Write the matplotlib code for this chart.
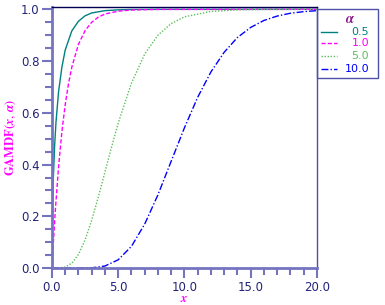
import matplotlib
matplotlib.use("Agg")
import matplotlib.pyplot as plt
from matplotlib.lines import Line2D
from matplotlib.patches import Rectangle
from matplotlib.ticker import MultipleLocator

plt.rcParams["mathtext.fontset"] = "stix"

# values
alpha_labels = ["0.5", "1.0", "5.0", "10.0"]

x_a05 = [0, 0.01, 0.02, 0.05, 0.1, 0.2, 0.3, 0.5, 0.75, 1.0, 1.5, 2.0, 2.5, 3.0, 4.0, 5.0, 6.0, 8.0, 20.0]
y_a05 = [0, 0.112, 0.159, 0.248, 0.345, 0.473, 0.562, 0.683, 0.777, 0.843, 0.917, 0.954, 0.975, 0.986, 0.995, 0.998, 0.9995, 1.0, 1.0]

x_a1 = [0, 0.05, 0.1, 0.25, 0.5, 0.75, 1.0, 1.25, 1.5, 2.0, 2.5, 3.0, 3.5, 4.0, 5.0, 6.0, 8.0, 20.0]
y_a1 = [0, 0.049, 0.095, 0.221, 0.393, 0.528, 0.632, 0.713, 0.777, 0.865, 0.918, 0.950, 0.970, 0.982, 0.993, 0.9975, 0.9997, 1.0]

x_a5 = [0, 0.5, 1.0, 1.5, 2.0, 2.5, 3.0, 3.5, 4.0, 4.5, 5.0, 6.0, 7.0, 8.0, 9.0, 10.0, 12.0, 14.0, 16.0, 20.0]
y_a5 = [0, 0.0002, 0.004, 0.019, 0.053, 0.109, 0.185, 0.275, 0.371, 0.468, 0.560, 0.715, 0.827, 0.900, 0.945, 0.971, 0.992, 0.998, 0.9996, 1.0]

x_a10 = [0, 2, 3, 4, 5, 6, 7, 8, 9, 10, 11, 12, 13, 14, 15, 16, 17, 18, 19, 20]
y_a10 = [0, 0.0, 0.001, 0.008, 0.032, 0.084, 0.170, 0.283, 0.413, 0.542, 0.660, 0.758, 0.834, 0.891, 0.930, 0.957, 0.974, 0.985, 0.991, 0.995]

colors = ["#008080", "#ff00ff", "#5cbf5c", "#0000ff"]
styles = ["-", (0, (3, 1.5)), (0, (1, 1.2)), (0, (5, 1.5, 1, 1.5))]
spine_col = "#7474c0"
text_col = "#22227a"

fig = plt.figure(figsize=(3.85, 3.05), dpi=100)
ax = fig.add_axes([0.135, 0.121, 0.688, 0.856])

series = [(x_a05, y_a05), (x_a1, y_a1), (x_a5, y_a5), (x_a10, y_a10)]
for (xs, ys), c, ls in zip(series, colors, styles):
    ax.plot(xs, ys, color=c, linestyle=ls, linewidth=1.0)

ax.set_xlim(0, 20)
ax.set_ylim(0, 1.009)
ax.xaxis.set_major_locator(MultipleLocator(5))
ax.xaxis.set_minor_locator(MultipleLocator(1))
ax.yaxis.set_major_locator(MultipleLocator(0.2))
ax.yaxis.set_minor_locator(MultipleLocator(0.05))
ax.xaxis.set_major_formatter(lambda v, p: f"{v:.1f}")
ax.yaxis.set_major_formatter(lambda v, p: f"{v:.1f}")

ax.tick_params(which="both", direction="out", color=spine_col, width=1.5,
               labelcolor=text_col, labelsize=8.5, pad=2)
ax.tick_params(which="major", length=7)
ax.tick_params(which="minor", length=5)

for s in ["left", "bottom"]:
    ax.spines[s].set_color(spine_col)
    ax.spines[s].set_linewidth(2)
ax.spines["top"].set_color("#000050")
ax.spines["top"].set_linewidth(1)
ax.spines["right"].set_color("#5050a8")
ax.spines["right"].set_linewidth(1)

ax.set_xlabel(r"$\mathbfit{x}$", color="#ff00ff", fontsize=9, labelpad=-1)
ax.set_ylabel(r"$\mathbf{GAMDF(}\mathbfit{x},\,\mathbfit{\alpha}\mathbf{)}$",
              color="#ff00ff", fontsize=9, labelpad=2)

# legend box drawn at the right of the axes
W, H = 385.0, 305.0
fig.add_artist(Rectangle((317 / W, 1 - 78 / H), 61 / W, 69 / H, transform=fig.transFigure,
                         fill=False, edgecolor="#5050a8", linewidth=1))
fig.text(350 / W, 1 - 19 / H, r"$\mathbfit{\alpha}$", color="#8b1a8b", fontsize=10,
         ha="center", va="center")
rows = [32, 43, 56, 69]
for lab, c, ls, yy in zip(alpha_labels, colors, styles, rows):
    fig.add_artist(Line2D([321 / W, 337 / W], [1 - yy / H, 1 - yy / H], transform=fig.transFigure,
                          color=c, linestyle=ls, linewidth=1.0))
    fig.text(369 / W, 1 - yy / H, lab, color=c, fontsize=8, ha="right", va="center")

fig.savefig("out.png", dpi=100)
